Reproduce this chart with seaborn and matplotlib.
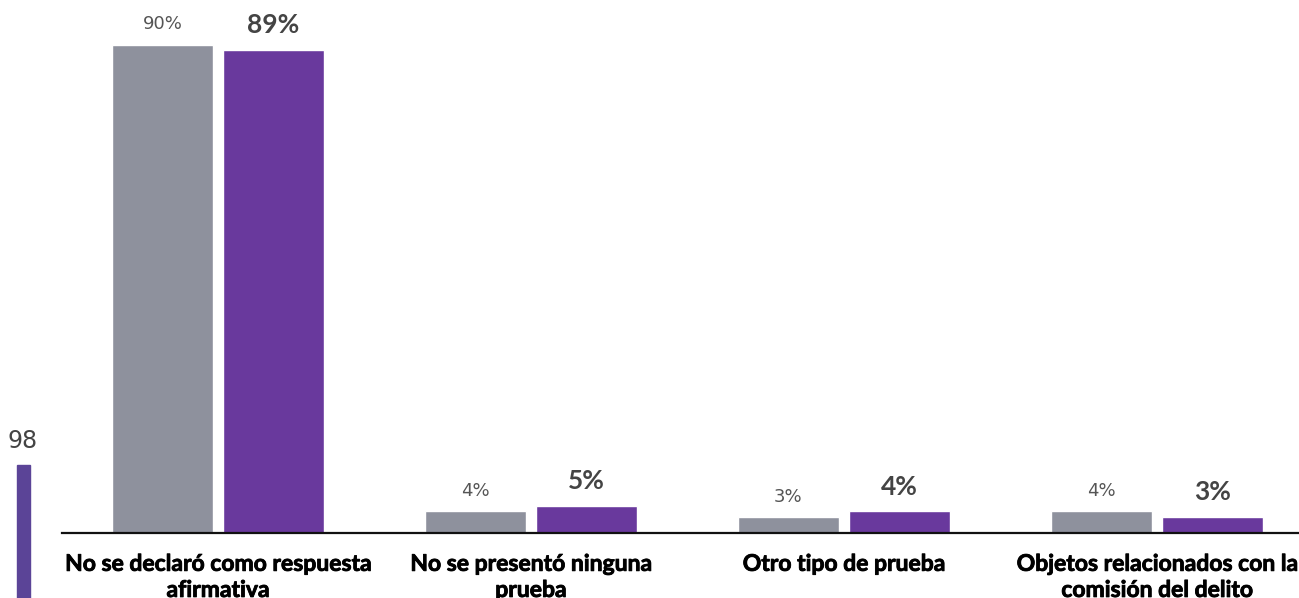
import pandas as pd
import matplotlib.pyplot as plt
import matplotlib.patches as mpatches
import matplotlib.patheffects as pe
import seaborn as sns

# Data
categories = ['No se declaró como respuesta\nafirmativa',
              'No se presentó ninguna\nprueba',
              'Otro tipo de prueba',
              'Objetos relacionados con la\ncomisión del delito']
series_a = [90, 4, 3, 4]
series_b = [89, 5, 4, 3]
series_names = ['Anterior', 'Actual']
side_value = 98

gray = '#8E919D'
purple = '#69399D'

df = pd.DataFrame({
    'categoria': categories * 2,
    'valor': series_a + series_b,
    'serie': [series_names[0]] * 4 + [series_names[1]] * 4,
})

sns.set_style('white')
plt.rcParams['font.family'] = ['Lato', 'DejaVu Sans']

W, H = 1299, 598
fig = plt.figure(figsize=(W / 100, H / 100), dpi=100)
ax = fig.add_axes([62 / W, 65 / H, (W - 62) / W, 533 / H])

sns.barplot(data=df, x='categoria', y='valor', hue='serie',
            palette=[gray, purple], width=0.709, gap=0.09,
            saturation=1, legend=False, ax=ax)

ax.set_xlim(-0.498, 3.454)
ax.set_ylim(0, 98.2)
ax.set_xlabel('')
ax.set_ylabel('')
ax.set_yticks([])
sns.despine(ax=ax, left=True)
ax.spines['bottom'].set_linewidth(1.6)
ax.spines['bottom'].set_color('#111111')
ax.tick_params(axis='x', length=0, pad=15)
heavy = [pe.withStroke(linewidth=0.6, foreground='black')]
for lbl in ax.get_xticklabels():
    lbl.set_fontsize(16.5)
    lbl.set_fontweight('bold')
    lbl.set_color('black')
    lbl.set_linespacing(1.3)
    lbl.set_path_effects(heavy)

# value labels
ax.bar_label(ax.containers[0], labels=[f'{v}%' for v in series_a],
             padding=8, fontsize=13, color='#555555',
             fontfamily='DejaVu Sans')
ax.bar_label(ax.containers[1], labels=[f'{v}%' for v in series_b],
             padding=9, fontsize=19, fontweight='bold', color='#444444')

# cut-off side marker at the left edge
fig.text(23 / W, 1 - 441 / H, str(side_value), ha='center', va='center',
         fontsize=17, color='#444444', fontfamily='DejaVu Sans')
fig.patches.append(mpatches.Rectangle((17 / W, 0), 13 / W, (H - 465) / H,
                                      transform=fig.transFigure,
                                      color='#5B4497', zorder=3))

fig.savefig('out.png', dpi=100)
